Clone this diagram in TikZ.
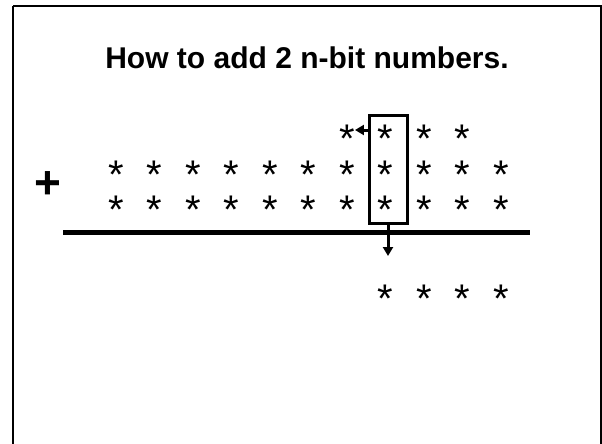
\documentclass[tikz,border=0pt]{standalone}
\usepackage{fontspec}
\setmainfont{Liberation Sans}
\usepackage{tikz}
\usetikzlibrary{arrows.meta,positioning}

% a star glyph centred on its node
\newcommand{\bitstar}{\raisebox{-0.57em}[0.17em][0.17em]{*}}

\begin{document}
\begin{tikzpicture}[
  x=1pt,y=-1pt,
  starnode/.style={inner sep=0pt,font=\fontsize{40}{40}\selectfont},
  colbox/.style={draw,line width=3pt,minimum width=38pt,minimum height=108pt,inner sep=0pt},
  arrow/.style={-{Triangle[length=9pt,width=10pt]},line width=3pt}
]
\useasboundingbox (0,0) rectangle (602,444);
\draw[line width=2pt] (13,6) -- (601,6) -- (601,460) (13,6) -- (13,460);
\node[font=\bfseries\fontsize{30}{30}\selectfont,anchor=base] (title) at (307,69) {How to add 2 n-bit numbers.};
% the two numbers
\foreach \i in {0,...,10} {
  \node[starnode] (b\i) at (116+38.5*\i,166) {\bitstar};
  \node[starnode] (c\i) at (116+38.5*\i,201) {\bitstar};
}
% carries and sum
\foreach \i in {6,...,9}
  \node[starnode] (t\i) at (116+38.5*\i,130) {\bitstar};
\foreach \i in {7,...,10}
  \node[starnode] (s\i) at (116+38.5*\i,290) {\bitstar};
\node[font=\bfseries\fontsize{46}{46}\selectfont,inner sep=0pt] (plus) at (48,183) {\raisebox{-0.335em}[0.25em][0.25em]{+}};
\draw[line width=5pt] (63,232) -- (530,232);
\node[colbox] (col) at (388,169) {};
\coordinate (down) at (388,256);
\draw[arrow] (col.west |- t6) -- (t6.east);
\draw[arrow] (col.south) -- (down);
\end{tikzpicture}
\end{document}
